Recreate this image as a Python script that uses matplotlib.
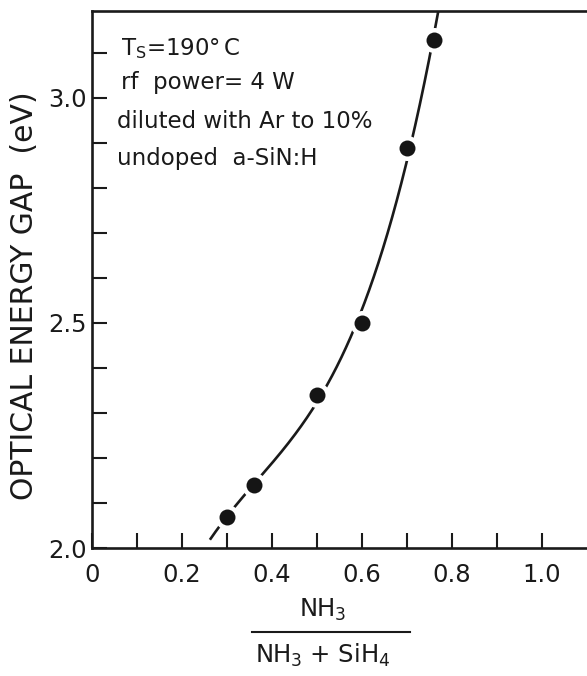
import numpy as np
import matplotlib.pyplot as plt

# NH3 fraction in the gas mix and the measured optical gap (eV)
nh3_ratio = [0.30, 0.36, 0.50, 0.60, 0.70, 0.76]
energy_gap = [2.07, 2.14, 2.34, 2.50, 2.89, 3.13]

x_ticklabels = ["0", "0.2", "0.4", "0.6", "0.8", "1.0"]
y_ticklabels = ["2.0", "2.5", "3.0"]

notes = ["T$_\\mathrm{S}$=190°$\\,$C",
         "rf  power= 4 W",
         "diluted with Ar to 10%",
         "undoped  a-SiN:H"]

plt.rcParams['font.family'] = ['DejaVu Sans']
plt.rcParams['mathtext.fontset'] = 'dejavusans'

W, H = 587, 676
fig = plt.figure(figsize=(W / 100, H / 100), dpi=100)


def fx(px):
    return px / W


def fy(py):
    return 1 - py / H


ax = fig.add_axes([fx(92), fy(548), fx(495), 537 / H])
ax.set_xlim(0, 1.1)
ax.set_ylim(2.0, 2.0 + 537 / 450)

# smooth trend through the points, a cubic fit
coef = np.polyfit(nh3_ratio, energy_gap, 3)
xs = np.linspace(0.262, 0.772, 200)
ax.plot(xs, np.polyval(coef, xs), color='#1a1a1a', lw=1.9, zorder=2,
        solid_capstyle='butt')

# white halo so the line stops short of each dot
ax.plot(nh3_ratio, energy_gap, 'o', color='white', ms=18, mew=0, zorder=3)
ax.plot(nh3_ratio, energy_gap, 'o', color='#151515', ms=11.5, mew=0, zorder=4)

for side in ['left', 'bottom', 'top']:
    ax.spines[side].set_linewidth(1.9)
    ax.spines[side].set_color('#1a1a1a')
ax.spines['right'].set_visible(False)

ax.set_xticks(np.arange(0, 1.01, 0.1))
ax.set_xticklabels([x_ticklabels[i // 2] if i % 2 == 0 else "" for i in range(11)])
ax.set_yticks(np.arange(2.0, 3.11, 0.1))
ax.set_yticklabels([y_ticklabels[i // 5] if i % 5 == 0 else "" for i in range(12)])
ax.tick_params(direction='in', length=11, width=1.5, color='#1a1a1a',
               labelsize=17.5, labelcolor='#1a1a1a')
ax.tick_params(axis='x', pad=11)
ax.tick_params(axis='y', pad=4)

fig.text(fx(25), fy(296), "OPTICAL ENERGY GAP  (eV)", rotation=90,
         ha='center', va='center', fontsize=21.5, color='#1a1a1a')

baselines = [55, 89, 128, 165]
starts = [121, 121, 117, 117]
for txt, by, sx in zip(notes, baselines, starts):
    fig.text(fx(sx), fy(by), txt, ha='left', va='baseline',
             fontsize=16.5, color='#1a1a1a')

# x axis title as a stacked fraction
fig.text(fx(323), fy(617), "NH$_3$", ha='center', va='baseline',
         fontsize=17.5, color='#1a1a1a')
fig.add_artist(plt.Line2D([fx(252), fx(410)], [fy(632), fy(632)],
                          color='#1a1a1a', lw=1.5))
fig.text(fx(323), fy(663), "NH$_3$ + SiH$_4$", ha='center', va='baseline',
         fontsize=17.5, color='#1a1a1a')

fig.savefig("out.png", dpi=100)
